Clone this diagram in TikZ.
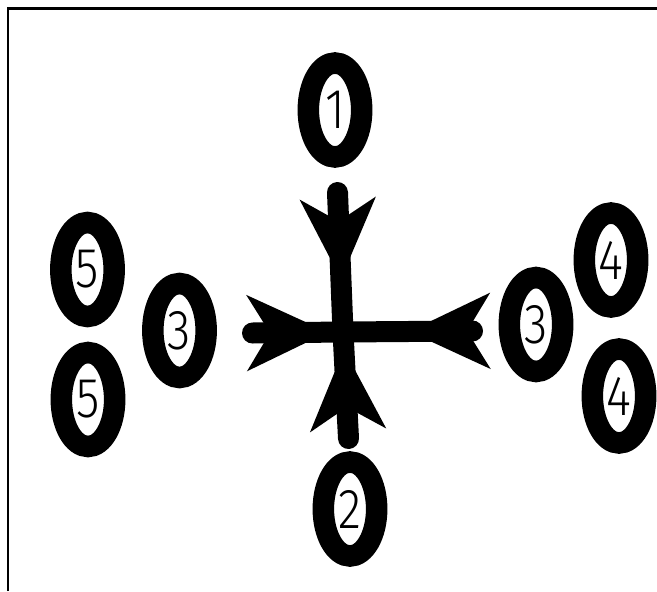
\documentclass[tikz,border=0pt]{standalone}
\usepackage{fontspec}
\setmainfont{Liberation Sans}
\newfontfamily\digitfont[FakeStretch=0.85]{Fira Sans Light}
\usetikzlibrary{positioning, arrows.meta, shapes.geometric, decorations.markings}
\tikzset{
    ring/.style={ellipse, draw=black, line width=0.645cm, minimum width=1.6cm, minimum height=2.82cm, inner sep=0pt, font=\digitfont\fontsize{48}{48}\selectfont},
    arm/.style={line width=0.63cm, line cap=round},
    armtip/.style={postaction={decorate}, decoration={markings, mark=at position #1 with {\arrow{Stealth[length=2.4cm, width=2.22cm, inset=0.66cm]}}}},
    frameline/.style={line width=0.075cm}
}
\begin{document}
\begin{tikzpicture}[x=0.03cm, y=-0.03cm]
        \useasboundingbox (0,0) rectangle (657,591);

        % Frame (top and left edge only)
        \draw[frameline] (8,591) -- (8,8.7) -- (657,8.7);

        % Rings
        \node[ring] (one) at (335,110) {1};
        \node[ring] (two) at (350,509) {2};
        \node[ring] (threeL) at (179.5,330.5) {3};
        \node[ring] (threeR) at (536,324.5) {3};
        \node[ring] (fourA) at (611,260) {4};
        \node[ring] (fourB) at (619,396) {4};
        \node[ring] (fiveA) at (87.5,269.5) {5};
        \node[ring] (fiveB) at (88,399.5) {5};

        % Cross
        \coordinate (hub) at (343,332);
        \coordinate (topend) at (337.5,192.5);
        \coordinate (botend) at (348.5,438.5);
        \coordinate (leftend) at (252.5,333);
        \coordinate (rightend) at (472.5,331);

        \draw[arm, armtip=2.61cm] (topend) -- (hub);
        \draw[arm, armtip=2.685cm] (botend) -- (hub);
        \draw[arm, armtip=2.265cm] (leftend) -- (hub);
        \draw[arm, armtip=1.905cm] (rightend) -- (hub);
\end{tikzpicture}
\end{document}
